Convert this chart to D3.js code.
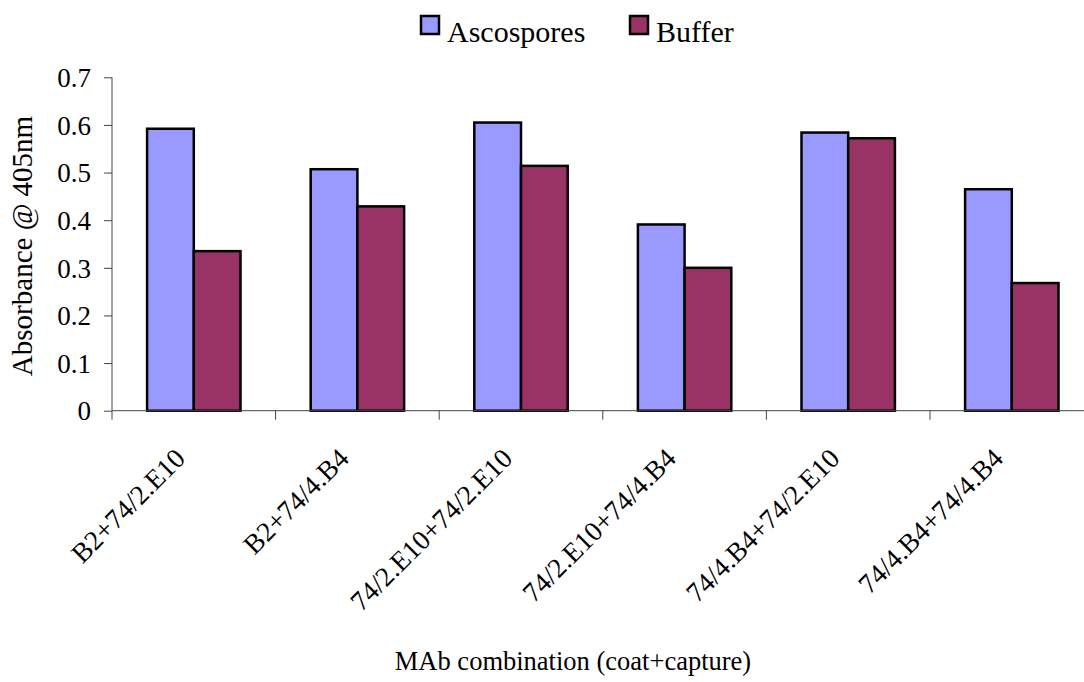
<!DOCTYPE html>
<html>
<head>
<meta charset="utf-8">
<script src="https://cdn.jsdelivr.net/npm/d3@7"></script>
<style>
  body { margin: 0; background: #fff; }
  text { font-family: "Liberation Serif", "Times New Roman", serif; fill: #000; }
</style>
</head>
<body>
<div id="chart"></div>
<script>
const width = 1084;
const height = 682;

// data
const categories = ["B2+74/2.E10", "B2+74/4.B4", "74/2.E10+74/2.E10", "74/2.E10+74/4.B4", "74/4.B4+74/2.E10", "74/4.B4+74/4.B4"];
const series = ["Ascospores", "Buffer"];
const ascospores = [0.592, 0.507, 0.605, 0.391, 0.584, 0.465];
const buffer = [0.335, 0.429, 0.514, 0.300, 0.572, 0.268];
const yTicks = [0, 0.1, 0.2, 0.3, 0.4, 0.5, 0.6, 0.7];

const colors = { Ascospores: "#9999ff", Buffer: "#993366" };
const values = { Ascospores: ascospores, Buffer: buffer };

const plotLeft = 112, plotTop = 77.3, plotBottom = 410.7;
const step = 163.6;

const svg = d3.select("#chart")
    .append("svg")
    .attr("width", width)
    .attr("height", height);

const x0 = d3.scaleBand()
    .domain(categories)
    .range([plotLeft, plotLeft + step * categories.length])
    .paddingInner(0.429)
    .paddingOuter(0.2145);

const x1 = d3.scaleBand()
    .domain(series)
    .range([0, x0.bandwidth()]);

const y = d3.scaleLinear()
    .domain([0, 0.7])
    .range([plotBottom, plotTop]);

// bars
const groups = svg.append("g")
    .selectAll("g")
    .data(categories)
    .join("g")
    .attr("transform", d => `translate(${x0(d)},0)`);

groups.selectAll("rect")
    .data((c, i) => series.map(s => ({ s, v: values[s][i] })))
    .join("rect")
    .attr("x", d => x1(d.s))
    .attr("y", d => y(d.v))
    .attr("width", x1.bandwidth())
    .attr("height", d => y(0) - y(d.v))
    .attr("fill", d => colors[d.s])
    .attr("stroke", "#000")
    .attr("stroke-width", 2.5);

// y axis
const yAxis = svg.append("g")
    .attr("transform", `translate(${plotLeft},0)`)
    .call(d3.axisLeft(y)
        .tickValues(yTicks)
        .tickSize(8)
        .tickPadding(13)
        .tickFormat(d => d === 0 ? "0" : d3.format(".1f")(d)));
yAxis.select(".domain").attr("stroke", "#444").attr("d", `M0,${plotTop}V${plotBottom}`);
yAxis.selectAll(".tick line").attr("stroke", "#444");
yAxis.selectAll("text")
    .style("font-family", "Liberation Serif")
    .style("font-size", "27px")
    .attr("dy", "0.34em");

// x axis: line, ticks at band boundaries
svg.append("line")
    .attr("x1", plotLeft).attr("x2", plotLeft + step * categories.length)
    .attr("y1", plotBottom).attr("y2", plotBottom)
    .attr("stroke", "#444");

svg.append("g")
    .selectAll("line")
    .data(d3.range(categories.length + 1))
    .join("line")
    .attr("x1", i => plotLeft + i * x0.step())
    .attr("x2", i => plotLeft + i * x0.step())
    .attr("y1", plotBottom)
    .attr("y2", plotBottom + 9)
    .attr("stroke", "#444");

// category labels, rotated
svg.append("g")
    .selectAll("text")
    .data(categories)
    .join("text")
    .attr("transform", d => `translate(${x0(d) + x0.bandwidth() / 2 - 7},460) rotate(-45)`)
    .attr("text-anchor", "end")
    .style("font-size", "27.5px")
    .text(d => d);

// axis titles
svg.append("text")
    .attr("x", 573)
    .attr("y", 670)
    .attr("text-anchor", "middle")
    .style("font-size", "26.5px")
    .text("MAb combination (coat+capture)");

svg.append("text")
    .attr("transform", "translate(32,246) rotate(-90)")
    .attr("text-anchor", "middle")
    .style("font-size", "29px")
    .text("Absorbance @ 405nm");

// legend
const legendX = [421, 630];
const legend = svg.append("g")
    .selectAll("g")
    .data(series)
    .join("g")
    .attr("transform", (d, i) => `translate(${legendX[i]},16)`);

legend.append("rect")
    .attr("width", 18)
    .attr("height", 18)
    .attr("fill", d => colors[d])
    .attr("stroke", "#000")
    .attr("stroke-width", 2.5);

legend.append("text")
    .attr("x", 26)
    .attr("y", 26)
    .style("font-size", "30px")
    .text(d => d);
</script>
</body>
</html>
